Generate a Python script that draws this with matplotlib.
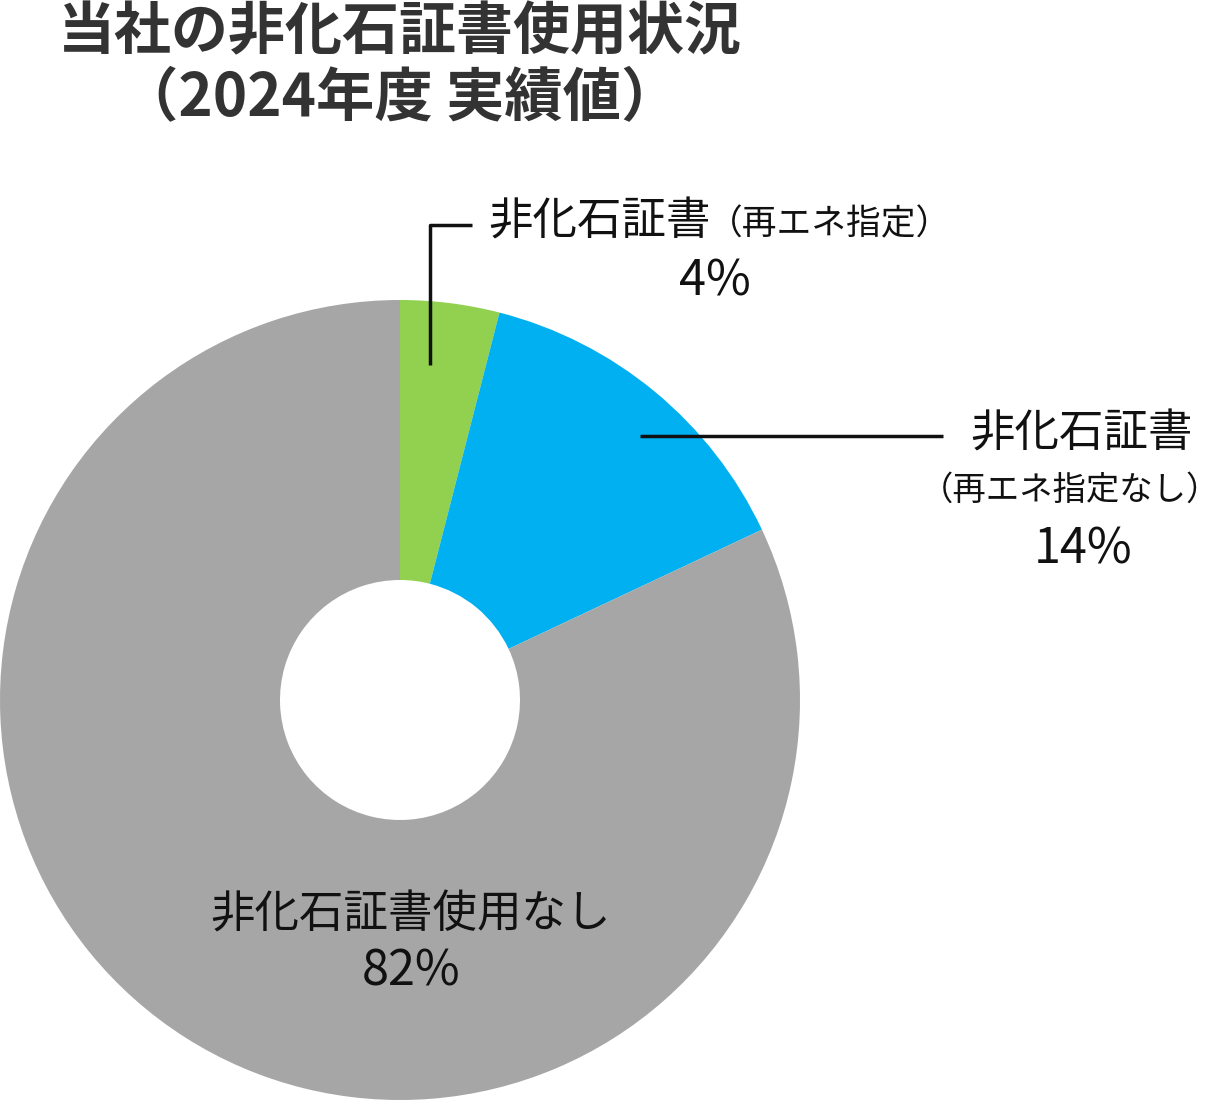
import matplotlib
matplotlib.use("Agg")
import matplotlib.pyplot as plt

plt.rcParams['font.family'] = ['Noto Sans CJK JP', 'DejaVu Sans']

# Data
categories = ['非化石証書（再エネ指定）', '非化石証書（再エネ指定なし）', '非化石証書使用なし']
shares = [4, 14, 82]
colors = ['#92D050', '#00B0F0', '#A6A6A6']
title_lines = ['当社の非化石証書使用状況', '（2024年度 実績値）']

W, H = 1225, 1100
fig = plt.figure(figsize=(W / 100, H / 100), dpi=100)

# donut, centred at (400, 700) px, radius 400 px
ax = fig.add_axes([0, 0, 800 / W, 800 / H])
ax.pie(shares, colors=colors, startangle=90, counterclock=False, radius=1,
       wedgeprops=dict(width=0.7, linewidth=0))
ax.set_xlim(-1, 1)
ax.set_ylim(-1, 1)
ax.set_aspect('equal')
ax.axis('off')

# overlay in pixel coordinates for labels and leader lines
ov = fig.add_axes([0, 0, 1, 1], zorder=5)
ov.set_xlim(0, W)
ov.set_ylim(H, 0)
ov.axis('off')
ov.patch.set_alpha(0)

tc = '#333333'
ov.text(400, 32, title_lines[0], ha='center', va='center', fontsize=41,
        fontweight='bold', color=tc)
ov.text(400, 98, title_lines[1], ha='center', va='center', fontsize=42,
        fontweight='bold', color=tc)

lc = '#111111'
# green label
ov.plot([430, 430, 472], [365, 225, 225], color=lc, lw=2.5, solid_capstyle='butt')
ov.text(488, 222, '非化石証書', ha='left', va='center', fontsize=32, color=lc)
ov.text(708, 225, '（再エネ指定）', ha='left', va='center', fontsize=25, color=lc)
ov.text(715, 282, f'{shares[0]}%', ha='center', va='center', fontsize=35, color=lc)

# blue label
ov.plot([640, 943], [436, 436], color=lc, lw=2.5, solid_capstyle='butt')
ov.text(1082, 434, '非化石証書', ha='center', va='center', fontsize=32, color=lc)
ov.text(1070, 490, '（再エネ指定なし）', ha='center', va='center', fontsize=24, color=lc)
ov.text(1083, 550, f'{shares[1]}%', ha='center', va='center', fontsize=35, color=lc)

# gray label
ov.text(411, 915, '非化石証書使用なし', ha='center', va='center', fontsize=32, color=lc)
ov.text(411, 972, f'{shares[2]}%', ha='center', va='center', fontsize=35, color=lc)

fig.savefig('out.png', dpi=100, facecolor='white')
